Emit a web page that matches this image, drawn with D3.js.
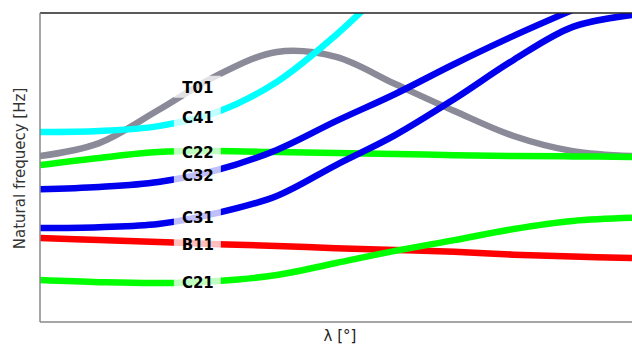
<!DOCTYPE html>
<html>
<head>
<meta charset="utf-8">
<script src="https://cdn.jsdelivr.net/npm/d3@7"></script>
<style>
  body { margin: 0; background: #fff; }
  text { font-family: "DejaVu Sans", sans-serif; }
</style>
</head>
<body>
<div class="chart"></div>
<script>
// lambda sample points (degrees)
var lambda = [0, 9, 18, 27, 36, 45, 54, 63, 72, 81, 90];

// natural frequency per mode (arbitrary units, 0 = bottom of axes, 100 = top)
var C41 = [61.5, 61.8, 63.4, 68.0, 77.7, 92.9, 111, 129, 147, 165, 183];
var T01 = [53.7, 57.9, 68.6, 79.9, 87.4, 85.8, 77.0, 68.3, 60.2, 55.3, 53.7];
var C22 = [50.8, 53.1, 55.0, 55.3, 55.0, 54.7, 54.4, 54.0, 53.7, 53.6, 53.4];
var C32 = [43.0, 43.7, 45.3, 49.2, 55.7, 65.0, 73.8, 83.5, 92.6, 101.0, 109.1];
var C31 = [30.4, 30.7, 31.7, 35.3, 40.8, 50.8, 60.5, 72.2, 84.8, 95.5, 99.4];
var B11 = [27.2, 26.5, 25.9, 25.2, 24.6, 23.9, 23.3, 22.7, 21.8, 21.2, 20.7];
var C21 = [13.6, 12.9, 12.6, 13.3, 15.2, 19.1, 23.0, 26.5, 30.1, 32.7, 33.7];

var modes = ["T01", "C41", "C22", "C32", "C31", "B11", "C21"];
var series = [T01, C41, C22, C32, C31, B11, C21];
var colors = ["#8a8a98", "#00ffff", "#00ff00", "#0000ee", "#0000ee", "#ff0000", "#00ff00"];

var labelAt = 24; // lambda where the inline labels sit

var width = 632,
    height = 345;

var margin = {top: 13, right: 0, bottom: 23, left: 40};
var innerW = width - margin.left - margin.right,
    innerH = height - margin.top - margin.bottom;

var x = d3.scaleLinear().domain([0, 90]).range([0, innerW]);
var y = d3.scaleLinear().domain([0, 100]).range([innerH, 0]);

var svg = d3.select(".chart").append("svg")
    .attr("width", width)
    .attr("height", height);

svg.append("defs").append("clipPath")
    .attr("id", "plot-clip")
    .append("rect")
    .attr("width", innerW)
    .attr("height", innerH);

var g = svg.append("g")
    .attr("transform", "translate(" + margin.left + "," + margin.top + ")");

var line = d3.line()
    .x(function(d, i) { return x(lambda[i]); })
    .y(function(d) { return y(d); })
    .curve(d3.curveCatmullRom.alpha(0.5));

var plot = g.append("g").attr("clip-path", "url(#plot-clip)");

plot.selectAll("path.mode")
    .data(series)
    .enter().append("path")
    .attr("class", "mode")
    .attr("d", line)
    .attr("fill", "none")
    .attr("stroke", function(d, i) { return colors[i]; })
    .attr("stroke-width", 6.5);

// value of a series at lambda = labelAt
function valueAt(s) {
    var i = d3.bisectLeft(lambda, labelAt) - 1;
    var t = (labelAt - lambda[i]) / (lambda[i + 1] - lambda[i]);
    return s[i] + t * (s[i + 1] - s[i]);
}

var labels = g.selectAll("g.label")
    .data(series)
    .enter().append("g")
    .attr("class", "label")
    .attr("transform", function(d) {
        return "translate(" + x(labelAt) + "," + y(valueAt(d)) + ")";
    });

// half-transparent box: the line stays faintly visible behind the label
labels.append("rect")
    .attr("x", -24)
    .attr("y", -11)
    .attr("width", 47)
    .attr("height", 22)
    .attr("fill", "#fff")
    .attr("opacity", 0.75);

labels.append("text")
    .attr("text-anchor", "middle")
    .attr("dy", "0.45em")
    .style("font-size", "15px")
    .style("font-weight", "bold")
    .attr("fill", "#000")
    .text(function(d, i) { return modes[i]; });

// frame
g.append("line").attr("x1", 0).attr("x2", innerW).attr("y1", 0).attr("y2", 0)
    .attr("stroke", "#222").attr("stroke-width", 1.5);
g.append("line").attr("x1", 0).attr("x2", 0).attr("y1", 0).attr("y2", innerH)
    .attr("stroke", "#888").attr("stroke-width", 1.5);
g.append("line").attr("x1", 0).attr("x2", innerW).attr("y1", innerH).attr("y2", innerH)
    .attr("stroke", "#888").attr("stroke-width", 1.5);

// axis titles
svg.append("text")
    .attr("x", margin.left + x(45) + 4)
    .attr("y", 341)
    .attr("text-anchor", "middle")
    .style("font-size", "15px")
    .attr("fill", "#222")
    .text("λ [°]");

svg.append("text")
    .attr("transform", "translate(25," + (margin.top + innerH / 2 + 1) + ") rotate(-90)")
    .attr("text-anchor", "middle")
    .style("font-size", "15px")
    .attr("fill", "#333")
    .text("Natural frequecy [Hz]");
</script>
</body>
</html>
